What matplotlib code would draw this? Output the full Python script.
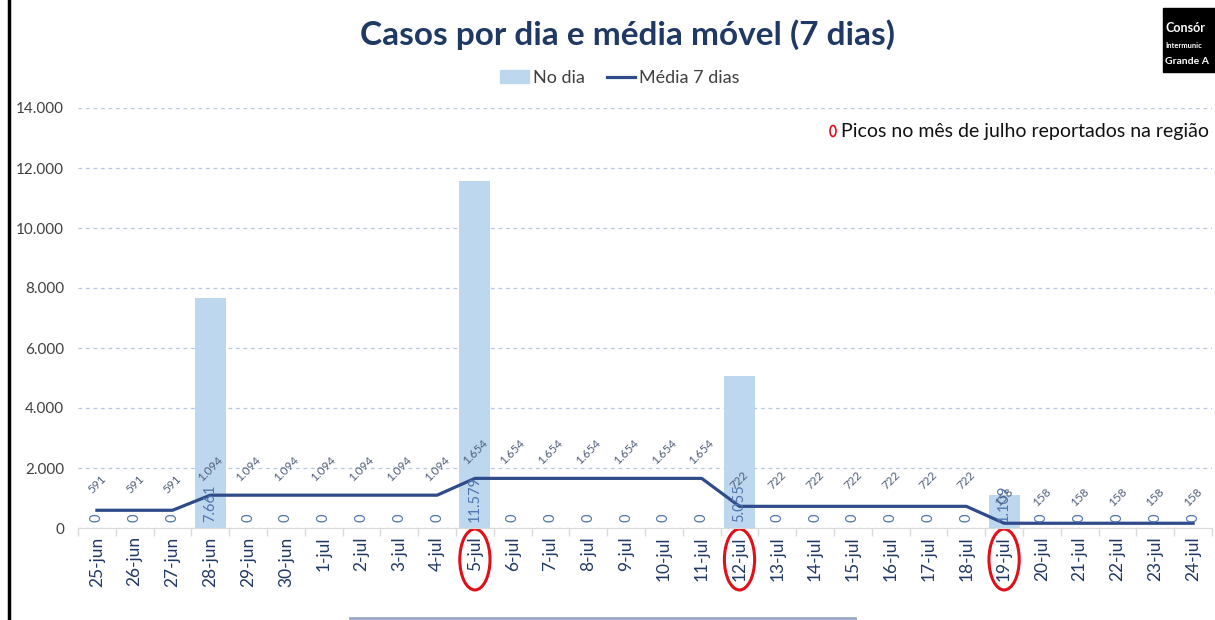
import matplotlib.pyplot as plt
import numpy as np
from matplotlib.patches import Ellipse, Rectangle
from matplotlib.lines import Line2D
from matplotlib.ticker import FuncFormatter, FixedLocator
import matplotlib.transforms as mtransforms

plt.rcParams['font.family'] = ['Lato', 'DejaVu Sans']

# DATA
datas = ['25-jun', '26-jun', '27-jun', '28-jun', '29-jun', '30-jun',
         '1-jul', '2-jul', '3-jul', '4-jul', '5-jul', '6-jul', '7-jul', '8-jul',
         '9-jul', '10-jul', '11-jul', '12-jul', '13-jul', '14-jul', '15-jul',
         '16-jul', '17-jul', '18-jul', '19-jul', '20-jul', '21-jul', '22-jul',
         '23-jul', '24-jul']
no_dia = [0, 0, 0, 7661, 0, 0, 0, 0, 0, 0, 11579, 0, 0, 0, 0, 0, 0, 5055,
          0, 0, 0, 0, 0, 0, 1109, 0, 0, 0, 0, 0]
media_7 = [591, 591, 591, 1094, 1094, 1094, 1094, 1094, 1094, 1094,
           1654, 1654, 1654, 1654, 1654, 1654, 1654, 722, 722, 722, 722,
           722, 722, 722, 158, 158, 158, 158, 158, 158]
picos = ['5-jul', '12-jul', '19-jul']

W, H = 1215, 620
fig = plt.figure(figsize=(W / 100, H / 100), dpi=100)
ax = fig.add_axes([78 / W, 1 - 528 / H, (1212 - 78) / W, (528 - 108) / H])

def br(v):
    return f"{v:,.0f}".replace(",", ".")

x = np.arange(len(datas))
ax.bar(x, no_dia, width=0.82, color='#BDD7EE', zorder=2)
ax.plot(x, media_7, color='#2F4B8A', lw=2.3, zorder=3)

# bar labels (inside base, vertical)
for xi, v in zip(x, no_dia):
    ax.text(xi, 200, br(v), rotation=90, ha='center', va='bottom',
            fontsize=10.5, color='#4F74AE', zorder=4)
# line labels (diagonal, above line)
for xi, v in zip(x, media_7):
    ax.annotate(br(v), (xi, v), xytext=(0, 19), textcoords='offset points',
                rotation=45, ha='center', va='center', fontsize=8.5,
                color='#50607A', zorder=4)

ax.set_xlim(-0.5, len(datas) - 0.5)
ax.set_ylim(0, 14000)
ax.yaxis.set_major_locator(FixedLocator(np.arange(0, 14001, 2000)))
ax.yaxis.set_major_formatter(FuncFormatter(lambda v, p: br(v)))
ax.tick_params(axis='y', length=0, labelsize=11, labelcolor='#404040', pad=10)
ax.set_xticks(x)
ax.set_xticklabels(datas, rotation=90, fontsize=12.5, color='#203864')
ax.tick_params(axis='x', which='major', length=0, pad=6)
ax.set_xticks(np.arange(-0.5, len(datas), 1), minor=True)
ax.tick_params(axis='x', which='minor', length=6, color='#D9D9D9', width=1)
ax.grid(axis='y', linestyle=(0, (3, 3)), color='#B4C7E7', lw=0.9, zorder=0)
for s in ['top', 'right', 'left']:
    ax.spines[s].set_visible(False)
ax.spines['bottom'].set_color('#D9D9D9')

# red circles around peak labels
trans = mtransforms.blended_transform_factory(ax.transData, ax.transAxes)
for p in picos:
    i = datas.index(p)
    ax.add_patch(Ellipse((i, -0.075), 0.8, 0.145, transform=trans, fill=False,
                         edgecolor='#E0101A', lw=2.2, clip_on=False))

# title and legend
fig.text(628 / W, 1 - 35 / H, 'Casos por dia e média móvel (7 dias)',
         ha='center', va='center', fontsize=24, fontweight='bold', color='#1F3864')
handles = [Rectangle((0, 0), 1, 1, color='#BDD7EE'),
           Line2D([0], [0], color='#2F4B8A', lw=2.3)]
fig.legend(handles, ['No dia', 'Média 7 dias'], loc='center',
           bbox_to_anchor=(620 / W, 1 - 78 / H), ncol=2, frameon=False,
           fontsize=13, handlelength=1.6, handletextpad=0.2, columnspacing=1.2,
           labelcolor='#404040')

# annotation
fig.patches.append(Ellipse((833 / W, 1 - 131 / H), 6 / W, 11 / H,
                           transform=fig.transFigure, fill=False,
                           edgecolor='#E0101A', lw=1.2))
fig.text(841 / W, 1 - 131 / H, 'Picos no mês de julho reportados na região',
         ha='left', va='center', fontsize=14, color='#111111')

# logo box top right (cropped in the source)
fig.patches.append(Rectangle((1163 / W, 1 - 72 / H), 60 / W, 64 / H,
                             transform=fig.transFigure, color='black'))
fig.text(1166 / W, 1 - 28 / H, 'Consór', color='white', fontsize=9,
         fontweight='bold', va='center', ha='left')
fig.text(1165 / W, 1 - 46 / H, 'Intermunic', color='white', fontsize=5.5,
         fontweight='bold', va='center', ha='left')
fig.text(1165 / W, 1 - 62 / H, 'Grande A', color='white', fontsize=7.5,
         fontweight='bold', va='center', ha='left')

# slide borders
fig.add_artist(Line2D([9 / W, 9 / W], [0, 1], color='black', lw=2.5,
                      transform=fig.transFigure))
fig.add_artist(Line2D([350 / W, 855 / W], [1 - 618 / H, 1 - 618 / H],
                      color='#9AA8C4', lw=2, transform=fig.transFigure))

fig.savefig('out.png', dpi=100)
